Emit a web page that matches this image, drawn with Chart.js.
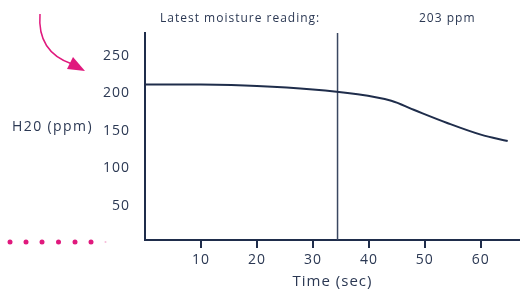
<!DOCTYPE html>
<html><head><meta charset="utf-8">
<script src="https://cdn.jsdelivr.net/npm/chart.js@4/dist/chart.umd.min.js"></script>
<style>html,body{margin:0;padding:0;background:#fff}canvas{display:block}</style>
</head><body>
<canvas id="c" width="520" height="291"></canvas>
<script>
const times = [0, 10, 20, 30, 38, 44, 48, 54, 60, 64.8];
const moisture = [211.7, 211.5, 209.5, 205, 198.5, 190, 178, 160.5, 145, 136.5];
const xTicks = [10, 20, 30, 40, 50, 60];
const yTicks = [50, 100, 150, 200, 250];
const readingTime = 34.4;
const readingLabel = "Latest moisture reading:";
const readingValue = "203 ppm";
const yTitle = "H20 (ppm)";
const xTitle = "Time (sec)";

const NAVY = '#1f2d4b';
const TEXT = '#2b3853';
const PINK = '#e0197d';
const FONT = "'Open Sans', sans-serif";
const Y_MIN = 5, Y_MAX = 280;

const spacing = {
  id: 'spacing',
  beforeUpdate(chart) { chart.ctx.letterSpacing = '1px'; },
  beforeDraw(chart) { chart.ctx.letterSpacing = '1px'; }
};

const deco = {
  id: 'deco',
  afterDraw(chart) {
    const ctx = chart.ctx;
    ctx.save();
    ctx.fillStyle = TEXT;
    ctx.textBaseline = 'middle';
    ctx.textAlign = 'left';
    ctx.letterSpacing = '1px';
    ctx.font = "12px " + FONT;
    ctx.fillText(readingLabel, 160, 19);
    ctx.fillText(readingValue, 419, 19);
    ctx.letterSpacing = '1.4px';
    ctx.font = "14px " + FONT;
    ctx.fillText(yTitle, 12, 127);
    // pink arrow
    ctx.strokeStyle = PINK; ctx.fillStyle = PINK; ctx.lineWidth = 1.5;
    ctx.beginPath();
    ctx.moveTo(40, 14);
    ctx.quadraticCurveTo(37, 52, 72, 64);
    ctx.stroke();
    ctx.beginPath();
    ctx.moveTo(85, 71); ctx.lineTo(67, 69); ctx.lineTo(73, 57); ctx.closePath();
    ctx.fill();
    // pink dots
    [10, 26, 42, 58.5, 75, 91].forEach(x => {
      ctx.beginPath(); ctx.arc(x, 242, 2.5, 0, Math.PI * 2); ctx.fill();
    });
    ctx.globalAlpha = 0.3;
    ctx.beginPath(); ctx.arc(105.5, 242, 1, 0, Math.PI * 2); ctx.fill();
    ctx.restore();
  }
};

new Chart(document.getElementById('c'), {
  type: 'line',
  data: {
    datasets: [
      {
        data: times.map((t, i) => ({x: t, y: moisture[i]})),
        borderColor: NAVY, borderWidth: 2, pointRadius: 0,
        tension: 0.35, fill: false
      },
      {
        data: [{x: readingTime, y: Y_MIN}, {x: readingTime, y: Y_MAX}],
        borderColor: '#3a4761', borderWidth: 1.5, pointRadius: 0, fill: false
      }
    ]
  },
  options: {
    responsive: false, animation: false,
    layout: {padding: {left: 0, right: 0, top: 33, bottom: 0}},
    plugins: {legend: {display: false}, tooltip: {enabled: false}},
    scales: {
      x: {
        type: 'linear', min: 0, max: 67,
        afterBuildTicks: s => { s.ticks = xTicks.map(v => ({value: v})); },
        afterFit: s => { s.height = 51; },
        border: {display: true, color: NAVY, width: 2},
        grid: {display: true, drawOnChartArea: false, drawTicks: true, tickLength: 8, color: NAVY, lineWidth: 2},
        ticks: {color: TEXT, font: {family: FONT, size: 14}, padding: 4, maxRotation: 0},
        title: {display: true, text: xTitle, color: TEXT, font: {family: FONT, size: 15}, padding: {top: 0, bottom: 0}}
      },
      y: {
        min: Y_MIN, max: Y_MAX,
        afterBuildTicks: s => { s.ticks = yTicks.map(v => ({value: v})); },
        afterFit: s => { s.width = 145; },
        border: {display: true, color: NAVY, width: 2},
        grid: {display: false},
        ticks: {color: TEXT, font: {family: FONT, size: 14}, padding: 7}
      }
    }
  },
  plugins: [spacing, deco]
});
</script>
</body></html>
